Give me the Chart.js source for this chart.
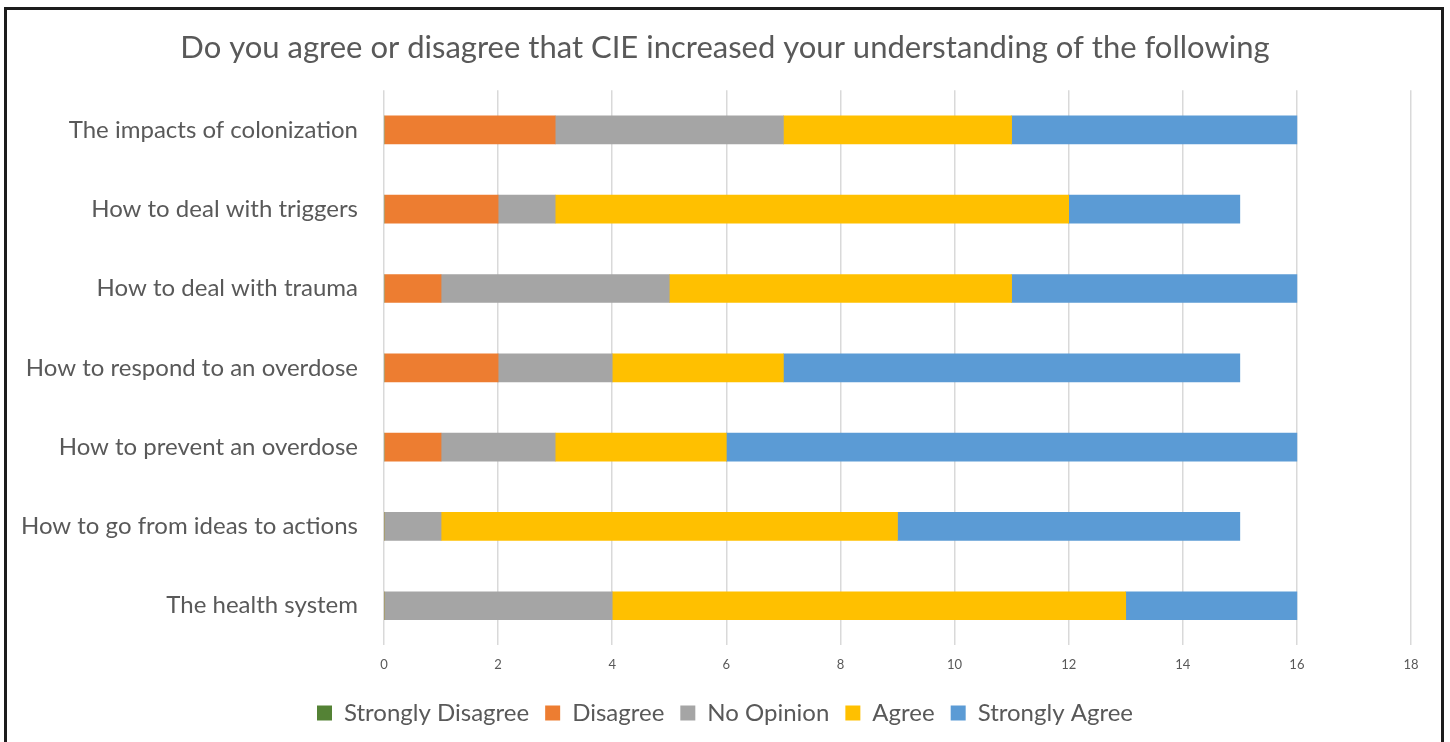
<!DOCTYPE html>
<html>
<head>
<meta charset="utf-8">
<title>CIE survey</title>
<script src="https://cdn.jsdelivr.net/npm/chart.js@4/dist/chart.umd.min.js"></script>
<style>
  html, body { margin: 0; padding: 0; background: #fff; overflow: hidden; }
  #wrap { position: relative; width: 1450px; height: 742px; }
  #frame {
    position: absolute; left: 4px; top: 7px; width: 1434px; height: 800px;
    border: 3px solid #1c1c1c; pointer-events: none;
  }
  canvas { position: absolute; left: 0; top: 0; }
</style>
</head>
<body>
<div id="wrap">
  <canvas id="chart" width="1450" height="742"></canvas>
  <div id="frame"></div>
</div>
<script>
// Survey answers, counted per statement
const categories = [
  'The impacts of colonization',
  'How to deal with triggers',
  'How to deal with trauma',
  'How to respond to an overdose',
  'How to prevent an overdose',
  'How to go from ideas to actions',
  'The health system'
];
const stronglyDisagree = [0, 0, 0, 0, 0, 0, 0];
const disagree = [3, 2, 1, 2, 1, 0, 0];
const noOpinion = [4, 1, 4, 2, 2, 1, 4];
const agree = [4, 9, 6, 3, 3, 8, 9];
const stronglyAgree = [5, 3, 5, 8, 10, 6, 3];
const xTicks = [0, 2, 4, 6, 8, 10, 12, 14, 16, 18];

const font = 'Lato, "Open Sans", sans-serif';
const textColor = '#595959';
const rightGap = 39;

function series(label, data, color) {
  return {label: label, data: data, backgroundColor: color, barThickness: 28};
}

// center title and legend on the whole canvas instead of left-heavy box
const centerBoxes = {
  id: 'centerBoxes',
  afterLayout(chart) {
    [chart.titleBlock, chart.legend].forEach(box => {
      if (box) box.left = chart.width - box.right;
    });
  }
};

new Chart(document.getElementById('chart').getContext('2d'), {
  type: 'bar',
  data: {
    labels: categories,
    datasets: [
      series('Strongly Disagree', stronglyDisagree, '#548235'),
      series('Disagree', disagree, '#ED7D31'),
      series('No Opinion', noOpinion, '#A5A5A5'),
      series('Agree', agree, '#FFC000'),
      series('Strongly Agree', stronglyAgree, '#5B9BD5')
    ]
  },
  plugins: [centerBoxes],
  options: {
    indexAxis: 'y',
    responsive: false,
    animation: false,
    layout: {padding: {left: 0, right: rightGap, top: 29, bottom: 7}},
    scales: {
      x: {
        stacked: true,
        min: xTicks[0],
        max: xTicks[xTicks.length - 1],
        afterBuildTicks: scale => {
          scale.ticks = xTicks.map(v => ({value: v}));
        },
        grid: {color: '#d9d9d9', lineWidth: 1.5, drawTicks: false},
        border: {display: false},
        ticks: {padding: 12, color: textColor, font: {family: font, size: 13}}
      },
      y: {
        stacked: true,
        grid: {display: false, drawTicks: false},
        border: {display: false},
        afterFit: scale => { scale.width = 384; },
        ticks: {padding: 26, color: textColor, font: {family: font, size: 24}}
      }
    },
    plugins: {
      title: {
        display: true,
        text: 'Do you agree or disagree that CIE increased your understanding of the following',
        color: textColor,
        font: {family: font, size: 31, weight: 'normal'},
        padding: {top: 0, bottom: 24}
      },
      legend: {
        position: 'bottom',
        labels: {
          color: textColor,
          font: {family: font, size: 24},
          boxWidth: 15,
          boxHeight: 15,
          padding: 16
        }
      },
      tooltip: {enabled: false}
    }
  }
});
</script>
</body>
</html>
